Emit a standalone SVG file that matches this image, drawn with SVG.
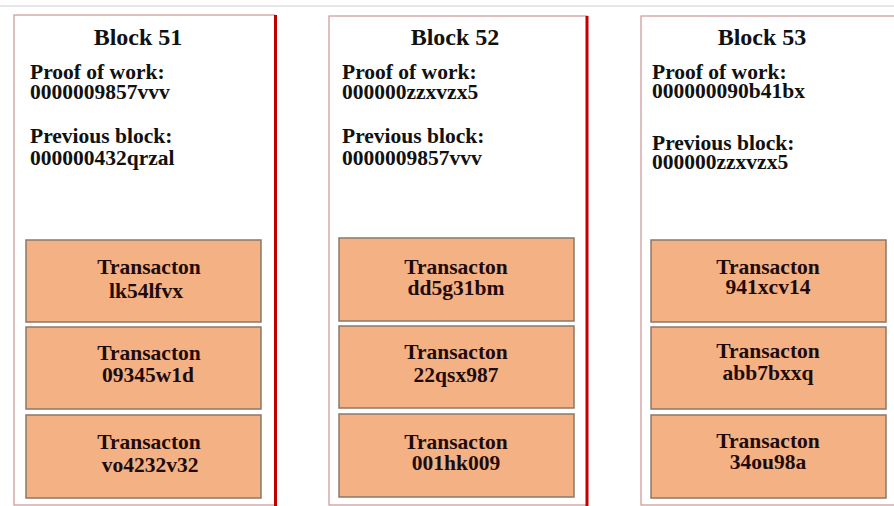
<svg xmlns="http://www.w3.org/2000/svg" width="894" height="506" viewBox="0 0 894 506">
  <style>
    .block { fill: #ffffff; stroke: #cf9595; stroke-width: 1.2; }
    .edge { stroke: #c00000; stroke-width: 3; }
    .tx { fill: #f4b183; stroke: #8a7868; stroke-width: 1.5; }
    text { font-family: "Liberation Serif", "Times New Roman", serif; font-weight: bold; }
    .title { font-size: 24px; fill: #111111; text-anchor: middle; }
    .field { font-size: 21.5px; fill: #111111; }
    .txt { font-size: 21.5px; fill: #1e0b0b; text-anchor: middle; }
  </style>
  <rect width="894" height="506" fill="#ffffff"/>
  <line x1="0" y1="6" x2="894" y2="6" stroke="#cfcdd6" stroke-width="1.2"/>

  <g id="block51">
    <rect class="block" x="14" y="15" width="261" height="490"/>
    <line class="edge" x1="275.5" y1="15" x2="275.5" y2="506"/>
    <text class="title" x="138" y="45">Block 51</text>
    <text class="field" x="30" y="79">Proof of work:</text>
    <text class="field" x="30" y="99">0000009857vvv</text>
    <text class="field" x="30" y="143">Previous block:</text>
    <text class="field" x="30" y="165">000000432qrzal</text>
    <g id="tx51a">
      <rect class="tx" x="26" y="240" width="235" height="82"/>
      <text class="txt" x="149" y="274">Transacton</text>
      <text class="txt" x="146" y="298">lk54lfvx</text>
    </g>
    <g id="tx51b">
      <rect class="tx" x="26" y="327" width="235" height="82"/>
      <text class="txt" x="149" y="360">Transacton</text>
      <text class="txt" x="148" y="382">09345w1d</text>
    </g>
    <g id="tx51c">
      <rect class="tx" x="26" y="415" width="235" height="83"/>
      <text class="txt" x="149" y="449">Transacton</text>
      <text class="txt" x="150" y="472">vo4232v32</text>
    </g>
  </g>

  <g id="block52">
    <rect class="block" x="329" y="16" width="258" height="489"/>
    <line class="edge" x1="587" y1="16" x2="587" y2="506"/>
    <text class="title" x="455" y="45">Block 52</text>
    <text class="field" x="342" y="79">Proof of work:</text>
    <text class="field" x="342" y="99">000000zzxvzx5</text>
    <text class="field" x="342" y="143">Previous block:</text>
    <text class="field" x="342" y="165">0000009857vvv</text>
    <g id="tx52a">
      <rect class="tx" x="339" y="238" width="235" height="83"/>
      <text class="txt" x="456" y="274">Transacton</text>
      <text class="txt" x="456" y="295">dd5g31bm</text>
    </g>
    <g id="tx52b">
      <rect class="tx" x="339" y="326" width="235" height="82"/>
      <text class="txt" x="456" y="359">Transacton</text>
      <text class="txt" x="456" y="382">22qsx987</text>
    </g>
    <g id="tx52c">
      <rect class="tx" x="339" y="414" width="235" height="83"/>
      <text class="txt" x="456" y="449">Transacton</text>
      <text class="txt" x="456" y="470">001hk009</text>
    </g>
  </g>

  <g id="block53">
    <rect class="block" x="641" y="16" width="262" height="489"/>
    <text class="title" x="762" y="45">Block 53</text>
    <text class="field" x="652" y="79">Proof of work:</text>
    <text class="field" x="652" y="98">000000090b41bx</text>
    <text class="field" x="652" y="150">Previous block:</text>
    <text class="field" x="652" y="169">000000zzxvzx5</text>
    <g id="tx53a">
      <rect class="tx" x="651" y="240" width="235" height="82"/>
      <text class="txt" x="768" y="274">Transacton</text>
      <text class="txt" x="768" y="294">941xcv14</text>
    </g>
    <g id="tx53b">
      <rect class="tx" x="651" y="327" width="235" height="82"/>
      <text class="txt" x="768" y="358">Transacton</text>
      <text class="txt" x="768" y="380">abb7bxxq</text>
    </g>
    <g id="tx53c">
      <rect class="tx" x="651" y="415" width="235" height="83"/>
      <text class="txt" x="768" y="448">Transacton</text>
      <text class="txt" x="768" y="469">34ou98a</text>
    </g>
  </g>

  <g id="connectors"/>
</svg>
